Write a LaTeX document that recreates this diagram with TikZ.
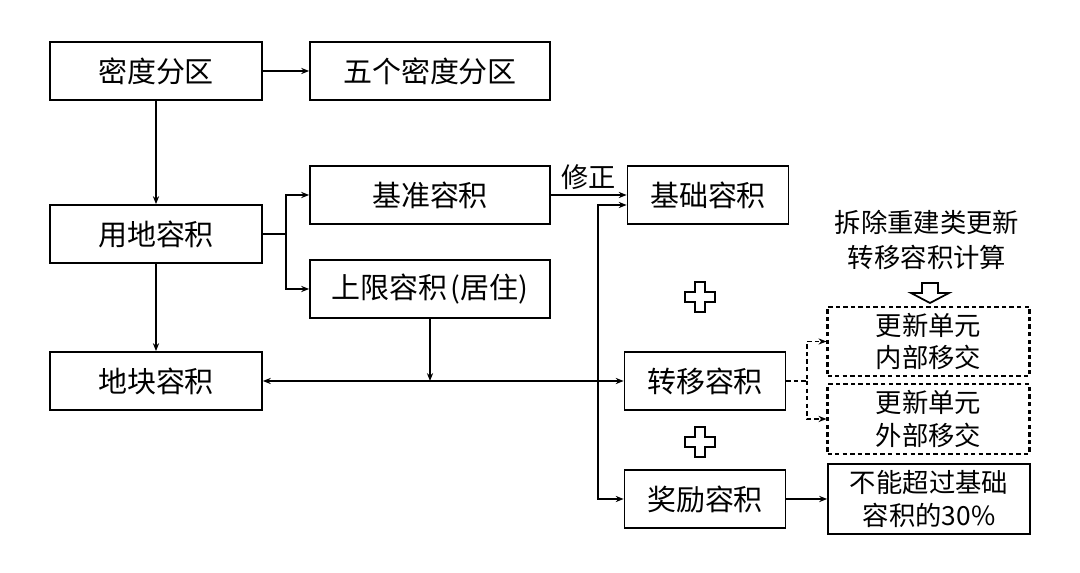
\documentclass[tikz,border=0pt]{standalone}
\usepackage{fontspec}
\setmainfont{Noto Sans CJK SC}
\usepackage{tikz}
\usetikzlibrary{arrows.meta}
\tikzset{
    far box/.style={rectangle, draw, line width=1pt, inner sep=0pt, minimum width=4.24cm, minimum height=1.16cm, font=\fontsize{16.5}{20}\selectfont},
    wide box/.style={far box, minimum width=4.8cm},
    short box/.style={far box, minimum width=3.22cm},
    note box/.style={far box, minimum width=4.04cm, minimum height=1.39cm, align=center, font=\fontsize{15}{18.5}\selectfont},
    part box/.style={note box, line width=1.2pt, dash pattern=on 2.5pt off 1.8pt},
    link/.style={-{Stealth[length=4.5pt,width=3.5pt]}, line width=0.9pt},
    both link/.style={{Stealth[length=4.5pt,width=3.5pt]}-{Stealth[length=4.5pt,width=3.5pt]}, line width=0.9pt},
    dashed link/.style={link, line width=1.1pt, dash pattern=on 2.5pt off 1.8pt},
    plus mark/.pic={
        \draw[line width=1pt] (-5,-15) -- (5,-15) -- (5,-5) -- (15,-5) -- (15,5) -- (5,5) -- (5,15) -- (-5,15) -- (-5,5) -- (-15,5) -- (-15,-5) -- (-5,-5) -- cycle;
    }
}

\begin{document}
\begin{tikzpicture}[x=0.02cm, y=-0.02cm]
\path[use as bounding box, fill=white] (0,0) rectangle (1080,573);

% left column
\node[far box] (density) at (156,71) {密度分区};
\node[wide box] (fivezones) at (430,71) {五个密度分区};
\node[far box] (landfar) at (156,234) {用地容积};
\node[far box] (plotfar) at (156,381) {地块容积};

% middle column
\node[wide box] (basefar) at (430,195) {基准容积};
\node[wide box] (upperfar) at (430,289) {上限容积\kern1.5pt(居住)};

% right column
\node[short box] (basicfar) at (708,195) {基础容积};
\node[short box] (transfar) at (705,381) {转移容积};
\node[short box] (bonusfar) at (705,499) {奖励容积};
\pic at (700,297) {plus mark};
\pic at (700,442) {plus mark};

\node[align=center, font=\fontsize{15}{20}\selectfont] (demolish) at (927,240) {拆除重建类更新\\转移容积计算};
\node[part box] (inner) at (928.5,341.5) {更新单元\\内部移交};
\node[part box] (outer) at (928.5,419) {更新单元\\外部移交};
\node[note box] (limit) at (929,499) {不能超过基础\\容积的30\%};

% hollow arrow
\draw[line width=1pt, fill=white] (922,283) -- (938,283) -- (938,293) -- (949,293) -- (930,303) -- (911,293) -- (922,293) -- cycle;

% connectors
\coordinate (fork) at (286,234);
\coordinate (split) at (598,381);
\coordinate (dsplit) at (807,381);

\draw[link] (density.east) -- (fivezones.west);
\draw[link] (density.south) -- (landfar.north);
\draw[link] (landfar.south) -- (plotfar.north);
\draw[link] (landfar.east) -- (fork) |- (basefar.west);
\draw[link] (fork) |- (upperfar.west);
\draw[link] (basefar.east) -- node[above, font=\fontsize{15.5}{18}\selectfont, yshift=-1pt] {修正} (basicfar.west);
\draw[link] (upperfar.south) -- (upperfar.south |- plotfar.east);
\draw[both link] (plotfar.east) -- (plotfar.east -| transfar.west);
\draw[link] (split) |- ([yshift=-0.2cm]basicfar.west);
\draw[link] (split) |- (bonusfar.west);
\draw[link] (bonusfar.east) -- (limit.west);
\draw[dashed link] (transfar.east) -- (dsplit) |- (inner.west);
\draw[dashed link] (dsplit) |- (outer.west);
\end{tikzpicture}
\end{document}
